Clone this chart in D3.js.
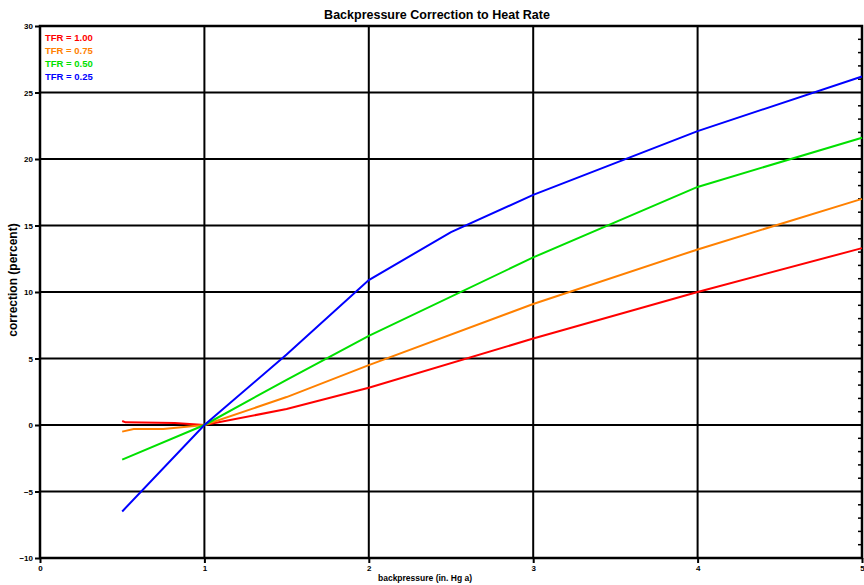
<!DOCTYPE html>
<html>
<head>
<meta charset="utf-8">
<script src="https://cdn.jsdelivr.net/npm/d3@7"></script>
<style>
  html, body { margin: 0; padding: 0; background: #fff; }
  svg { display: block; font-family: "Liberation Sans", Arial, sans-serif; }
</style>
</head>
<body>
<svg id="chart" width="864" height="585"></svg>
<script>
// ---- data ----
const title = "Backpressure Correction to Heat Rate";
const xLabel = "backpressure (in. Hg a)";
const yLabel = "correction (percent)";
const xTicks = [0, 1, 2, 3, 4, 5];
const yTicks = [-10, -5, 0, 5, 10, 15, 20, 25, 30];
const seriesNames = ["TFR = 1.00", "TFR = 0.75", "TFR = 0.50", "TFR = 0.25"];
const seriesColors = ["#ff0000", "#ff8000", "#00e000", "#0000ff"];
const xRed    = [0.5, 0.52, 0.82, 1.0, 1.5, 2.0, 3.0, 4.0, 5.0];
const yRed    = [0.3, 0.2, 0.15, 0.0, 1.2, 2.8, 6.5, 10.0, 13.3];
const xOrange = [0.5, 0.57, 0.75, 1.0, 1.5, 2.0, 3.0, 4.0, 5.0];
const yOrange = [-0.5, -0.3, -0.3, 0.0, 2.1, 4.5, 9.1, 13.2, 17.0];
const xGreen  = [0.5, 1.0, 1.5, 2.0, 3.0, 4.0, 5.0];
const yGreen  = [-2.6, 0.0, 3.4, 6.7, 12.6, 17.9, 21.6];
const xBlue   = [0.5, 1.0, 1.5, 2.0, 2.5, 3.0, 4.0, 5.0];
const yBlue   = [-6.5, 0.0, 5.3, 10.9, 14.5, 17.3, 22.1, 26.2];

const seriesX = [xRed, xOrange, xGreen, xBlue];
const seriesY = [yRed, yOrange, yGreen, yBlue];

// ---- layout ----
const W = 864, H = 585;
const m = { left: 40, right: 2, top: 26, bottom: 27 };
const svg = d3.select("#chart");

const x = d3.scaleLinear().domain([0, 5]).range([m.left, W - m.right]);
const y = d3.scaleLinear().domain([-10, 30]).range([H - m.bottom, m.top]);

// grid lines
const grid = svg.append("g");
grid.selectAll("line.v").data(xTicks.slice(1, -1)).enter().append("line")
  .attr("x1", d => x(d)).attr("x2", d => x(d))
  .attr("y1", y(30)).attr("y2", y(-10))
  .attr("stroke", "#000").attr("stroke-width", 2);
grid.selectAll("line.h").data(yTicks.slice(1, -1)).enter().append("line")
  .attr("x1", x(0)).attr("x2", x(5))
  .attr("y1", d => y(d)).attr("y2", d => y(d))
  .attr("stroke", "#000").attr("stroke-width", 2);

// minor ticks on right axis (every 1 unit)
const rightMinor = d3.range(-10, 31, 1).filter(v => v % 5 !== 0);
svg.append("g").selectAll("line").data(rightMinor).enter().append("line")
  .attr("x1", x(5) - 4).attr("x2", x(5))
  .attr("y1", d => y(d)).attr("y2", d => y(d))
  .attr("stroke", "#000").attr("stroke-width", 1.5);

// axes
const xAxis = d3.axisBottom(x).tickValues(xTicks).tickFormat(d3.format("d")).tickSize(5).tickPadding(2);
const yAxis = d3.axisLeft(y).tickValues(yTicks).tickFormat(d3.format("d")).tickSize(5).tickPadding(2);

const gx = svg.append("g").attr("transform", `translate(0,${y(-10)})`).call(xAxis);
const gy = svg.append("g").attr("transform", `translate(${x(0)},0)`).call(yAxis);
[gx, gy].forEach(g => {
  g.select(".domain").remove();
  g.selectAll(".tick line").attr("stroke", "#000").attr("stroke-width", 2);
  g.selectAll(".tick text").attr("fill", "#000").style("font-size", "8px").style("font-weight", "bold");
});

// frame
svg.append("rect")
  .attr("x", x(0)).attr("y", y(30))
  .attr("width", x(5) - x(0)).attr("height", y(-10) - y(30))
  .attr("fill", "none").attr("stroke", "#000").attr("stroke-width", 2.5);

// lines
const line = d3.line().x(d => x(d[0])).y(d => y(d[1]));
seriesX.forEach((xs, i) => {
  const pts = xs.map((v, j) => [v, seriesY[i][j]]);
  svg.append("path").datum(pts)
    .attr("d", line)
    .attr("fill", "none")
    .attr("stroke", seriesColors[i])
    .attr("stroke-width", 2);
});

// legend
const lg = svg.append("g");
seriesNames.forEach((n, i) => {
  lg.append("text")
    .attr("x", 45).attr("y", 41 + i * 13)
    .attr("fill", seriesColors[i])
    .style("font-size", "9.5px").style("font-weight", "bold")
    .text(n);
});

// title & labels
svg.append("text").attr("x", 437).attr("y", 19).attr("text-anchor", "middle")
  .style("font-size", "12.5px").style("font-weight", "bold").text(title);
svg.append("text").attr("x", 425).attr("y", 581).attr("text-anchor", "middle")
  .style("font-size", "8.5px").style("font-weight", "bold").text(xLabel);
svg.append("text").attr("transform", "translate(17,280) rotate(-90)").attr("text-anchor", "middle")
  .style("font-size", "12px").style("font-weight", "bold").text(yLabel);
</script>
</body>
</html>
